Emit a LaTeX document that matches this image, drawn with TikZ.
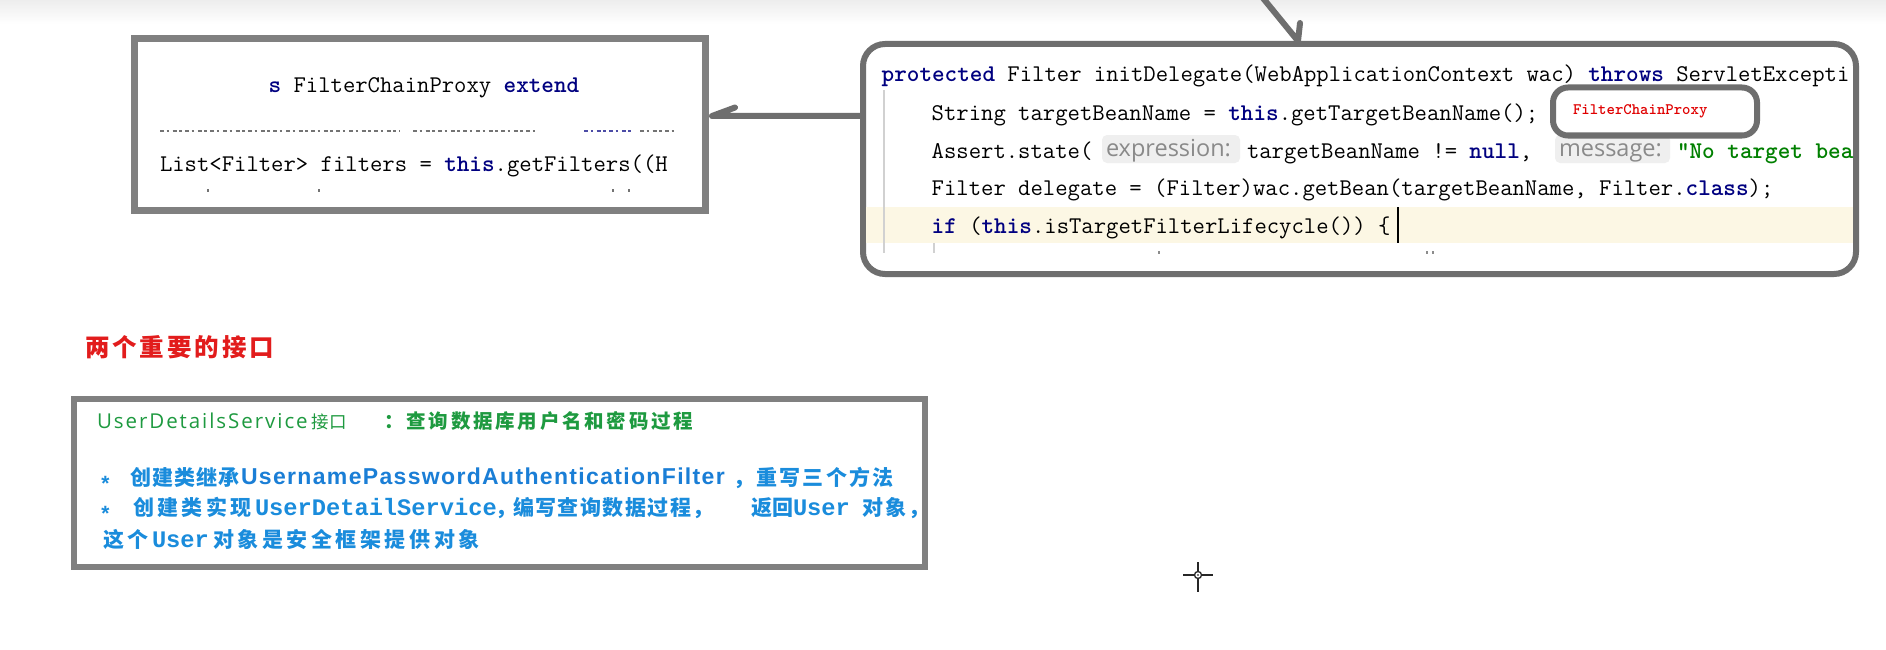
\documentclass[tikz,border=0pt]{standalone}
\usepackage{fontspec}
\newfontfamily\cjk{Noto Sans CJK SC}
\newfontfamily\hintf{Open Sans}
\newfontfamily\arl{Liberation Sans}
\newfontfamily\lmon{Liberation Mono}
\newcommand\fsz[1]{\fontsize{#1}{#1}\selectfont}
\newcommand\lsp[1]{\addfontfeature{LetterSpace=#1}}
\definecolor{navy}{HTML}{000080}
\definecolor{codegreen}{HTML}{008000}
\definecolor{boxgray}{HTML}{6E6E6E}
\definecolor{lboxgray}{HTML}{808080}
\definecolor{hlyellow}{HTML}{FCF7E4}
\definecolor{hintbg}{HTML}{EFEFEF}
\definecolor{hintfg}{HTML}{8A8A8A}
\definecolor{titlered}{HTML}{E21C1C}
\definecolor{tgreen}{HTML}{1E9A40}
\definecolor{tblue}{HTML}{1A8CDC}
\definecolor{tbluedeep}{HTML}{1A7ED6}
\definecolor{fcpred}{HTML}{E00000}
\newcommand\kwd[1]{{\bfseries\color{navy}#1}}
\begin{document}
\begin{tikzpicture}[x=1pt,y=-1pt,
  txt/.style={anchor=base west, inner sep=0pt, outer sep=0pt},
  code/.style={txt, font=\ttfamily\fsz{24}},
  frame/.style={draw, line width=6pt, fill=white, inner sep=0pt},
  conn/.style={draw=boxgray, line width=6pt, line cap=round, line join=round},
  cjkb/.style={txt, text=tblue},
  hintbox/.style={fill=hintbg, rounded corners=5pt},
  hinttxt/.style={txt, font=\hintf\fsz{23.5}, text=hintfg},
  frag/.style={line width=1.7pt, dash pattern=on 4pt off 2.5pt on 2.5pt off 3.6pt},
]
\fill[white] (0,0) rectangle (1886,650);
\useasboundingbox (0,0) rectangle (1886,650);
\shade[top color=black!7, bottom color=white] (0,0) rectangle (1886,24);

% ---------- left box ----------
\coordinate (tipB) at (712,116);
\node[frame, draw=lboxgray, line width=7pt, minimum width=571pt, minimum height=171.5pt] (lb) at (419.5,124.25) {};
\node[code] (lbt1) at (268.6,93) {\kwd{s} FilterChainProxy \kwd{extend}};
\draw[frag, black!55] (160,131) -- (400,131) (413,131) -- (538,131) (640,131) -- (677,131);
\draw[frag, navy!70] (584,131) -- (634,131);
\node[code] (lbt2) at (160,171.5) {List<Filter> filters = \kwd{this}.getFilters((H};
\foreach \mx in {207,318,612,628} \fill[black!55] (\mx,189) rectangle +(2,3);

% ---------- right box ----------
\node[frame, draw=boxgray, rounded corners=22pt, minimum width=993pt, minimum height=230pt] (rb) at (1359.5,159) {};
\begin{scope}
\clip[rounded corners=18pt] (866,47) rectangle (1853,271);
\fill[hlyellow] (866,206.7) rectangle (1853,243.3);
\draw[black!18, line width=1.3pt] (884,90) -- (884,253);
\draw[black!18, line width=1.3pt] (934,243) -- (934,253);
\node[code] (c1) at (881.7,82) {\kwd{protected} Filter initDelegate(WebApplicationContext wac) \kwd{throws} ServletExcepti};
\node[code] (c2) at (931.7,120.5) {String targetBeanName = \kwd{this}.getTargetBeanName();};
\node[code] (c3a) at (931.7,158) {Assert.state(};
\fill[hintbox] (1102,135) rectangle (1240,163);
\node[hinttxt] (h1) at (1106,157) {expression:};
\node[code] (c3b) at (1247,158) {targetBeanName != \kwd{null},};
\fill[hintbox] (1555,135) rectangle (1670,163);
\node[hinttxt] (h2) at (1559,157) {message:};
\node[code, text=codegreen] (c3c) at (1677,158) {\bfseries "No target bea};
\node[code] (c4) at (931.7,195) {Filter delegate = (Filter)wac.getBean(targetBeanName, Filter.\kwd{class});};
\node[code] (c5) at (931.7,233) {\kwd{if} (\kwd{this}.isTargetFilterLifecycle()) \{};
\draw[black, line width=2pt] (1398,207) -- (1398,243);
\foreach \mx in {1158,1426,1432} \fill[black!45] (\mx,251) rectangle +(2,3);
\end{scope}

% small box
\node[frame, draw=boxgray, rounded corners=15pt, minimum width=204pt, minimum height=48pt] (sb) at (1655,111.5) {};
\node[txt, font=\ttfamily\bfseries\fsz{16}, text=fcpred] (sbt) at (1573,115) {FilterChainProxy};

% ---------- arrows ----------
\coordinate (tA) at (1258,-8);
\coordinate (tipA) at (1298,41);
\draw[conn] (tA) -- (tipA) -- ++(2,-18);
\draw[conn] (rb.west |- tipB) -- (tipB) -- ++(23,-8.5);

% ---------- title ----------
\node[txt, font=\cjk\bfseries\fsz{24.5}\lsp{12}, text=titlered] (title) at (85,356.5) {两个重要的接口};

% ---------- bottom box ----------
\node[frame, draw=lboxgray, minimum width=851pt, minimum height=168pt] (bb) at (499.5,483) {};
\node[txt, font=\hintf\fsz{20.5}\lsp{9.5}, text=tgreen] (u1) at (97,428) {UserDetailsService};
\node[txt, font=\cjk\fsz{17.5}\lsp{4}, text=tgreen] (u2) at (311,428.5) {接口};
\node[txt, font=\cjk\bfseries\fsz{19.5}\lsp{14}, text=tgreen] (u3) at (384.5,428.5) {：查询数据库用户名和密码过程};

\node[txt, font=\lmon\bfseries\fsz{21}, text=tblue] (s1) at (99,491) {*};
\node[cjkb, font=\cjk\bfseries\fsz{21}\lsp{5}] (a1) at (130,485) {创建类继承};
\node[txt, font=\arl\bfseries\fsz{23}\lsp{5.8}, text=tbluedeep] (a2) at (241,484) {UsernamePasswordAuthenticationFilter};
\node[cjkb, font=\cjk\bfseries\fsz{21}\lsp{11}] (a3) at (733,485) {，重写三个方法};

\node[txt, font=\lmon\bfseries\fsz{21}, text=tblue] (s2) at (99,521) {*};
\node[cjkb, font=\cjk\bfseries\fsz{21}\lsp{16}] (b1) at (133,515) {创建类实现};
\node[txt, font=\lmon\bfseries\fsz{23.7}, text=tblue] (b2) at (255,515) {UserDetailService};
\node[cjkb, font=\cjk\bfseries\fsz{21}] (b3) at (495,515) {，};
\node[cjkb, font=\cjk\bfseries\fsz{21}\lsp{7}] (b4) at (513,515) {编写查询数据过程，};
\node[cjkb, font=\cjk\bfseries\fsz{21}] (b5) at (751,515) {返回};
\node[txt, font=\lmon\bfseries\fsz{23.7}, text=tblue] (b6) at (793,515) {User};
\node[cjkb, font=\cjk\bfseries\fsz{21}\lsp{10}] (b7) at (862,515) {对象，};

\node[cjkb, font=\cjk\bfseries\fsz{21}\lsp{17}] (d1) at (103,547) {这个};
\node[txt, font=\lmon\bfseries\fsz{23.7}, text=tblue] (d2) at (152,547) {User};
\node[cjkb, font=\cjk\bfseries\fsz{21}\lsp{17}] (d3) at (213,547) {对象是安全框架提供对象};

% ---------- cursor ----------
\begin{scope}[shift={(1198,575)}]
\draw[black!85, line width=1.3pt] (0,0) circle (3.5);
\draw[black!85, line width=1.3pt] (0,-3.5) -- (0,-13.5) (0,3.5) -- (0,16.5) (-3.5,0) -- (-15,0) (3.5,0) -- (15,0);
\fill[black] (0,0) circle (0.8);
\end{scope}
\end{tikzpicture}
\end{document}
